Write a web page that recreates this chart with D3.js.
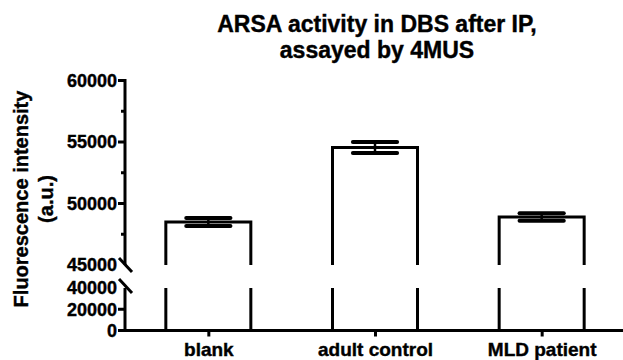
<!DOCTYPE html>
<html>
<head>
<meta charset="utf-8">
<script src="https://cdn.jsdelivr.net/npm/d3@7"></script>
<style>
  body { margin: 0; background: #fff; }
</style>
</head>
<body>
<svg id="chart" width="623" height="360"></svg>
<script>
var groups = ["blank", "adult control", "MLD patient"];
var means = [48500, 54550, 48900];
var errors = [320, 450, 300];
var upperTicks = [45000, 50000, 55000, 60000];
var upperMinor = [47500, 52500, 57500];
var lowerTicks = [0, 20000, 40000];
var titleLines = ["ARSA activity in DBS after IP,", "assayed by 4MUS"];
var yLabelLines = ["Fluorescence intensity", "(a.u.)"];

var svg = d3.select("#chart");
var axisX = 125, lw = 3;
var fmt = d3.format("d");

var x = d3.scalePoint().domain(groups).range([125, 625]).padding(0.5);
var barW = x.step() * 0.51;

// broken y axis: two segments
var yUp = d3.scaleLinear().domain([45000, 60000]).range([265, 80.5]);
var yLo = d3.scaleLinear().domain([0, 40000]).range([330.5, 288]);

function bold(sel, size){
  sel.style("font-family", "'Liberation Sans'").style("font-weight", "bold")
    .style("font-size", size + "px").attr("fill", "#000")
    .attr("stroke", "#000").attr("stroke-width", 0.4);
  return sel;
}

// title
var t = svg.append("text")
  .attr("x", 377).attr("y", 32)
  .attr("text-anchor", "middle");
bold(t, 23);
t.selectAll("tspan").data(titleLines).enter().append("tspan")
  .attr("x", 377).attr("dy", function(d, i){ return i ? 26 : 0; })
  .text(function(d){ return d; });

// y label
var yl = svg.append("text")
  .attr("transform", "translate(28,199) rotate(-90)")
  .attr("text-anchor", "middle");
bold(yl, 20);
yl.selectAll("tspan").data(yLabelLines).enter().append("tspan")
  .attr("x", 0).attr("dy", function(d, i){ return i ? 25 : 0; })
  .text(function(d){ return d; });

// bars (outlines, broken like the axis)
var bars = svg.append("g").attr("fill", "none").attr("stroke", "#000").attr("stroke-width", lw);
groups.forEach(function(g, i){
  var x0 = x(g) - barW / 2, x1 = x(g) + barW / 2;
  bars.append("path")
    .attr("d", "M" + x0 + "," + yUp(45000) + "V" + yUp(means[i]) + "H" + x1 + "V" + yUp(45000));
  bars.append("path")
    .attr("d", "M" + x0 + "," + yLo(0) + "V" + yLo(40000) + "M" + x1 + "," + yLo(0) + "V" + yLo(40000));
});

// error bars
var err = svg.append("g").attr("stroke", "#000");
groups.forEach(function(g, i){
  var cx = x(g), cw = barW * 0.26;
  err.append("line")
    .attr("x1", cx).attr("x2", cx)
    .attr("y1", yUp(means[i] + errors[i])).attr("y2", yUp(means[i] - errors[i]))
    .attr("stroke-width", 2.5);
  [means[i] + errors[i], means[i] - errors[i]].forEach(function(v){
    err.append("line")
      .attr("x1", cx - cw).attr("x2", cx + cw)
      .attr("y1", yUp(v)).attr("y2", yUp(v))
      .attr("stroke-width", 4).attr("stroke-linecap", "round");
  });
});

// y axes drawn by hand so both segments share one style
var ax = svg.append("g").attr("stroke", "#000").attr("stroke-width", lw).attr("fill", "none");
ax.append("path").attr("d", "M" + axisX + "," + (yUp(60000) - 1.5) + "V" + yUp(45000));
ax.append("path").attr("d", "M" + axisX + "," + yLo(0) + "V" + yLo(40000));

upperTicks.slice(1).forEach(function(v){
  ax.append("line").attr("x1", axisX - 7).attr("x2", axisX).attr("y1", yUp(v)).attr("y2", yUp(v));
});
upperMinor.forEach(function(v){
  ax.append("line").attr("x1", axisX - 4).attr("x2", axisX).attr("y1", yUp(v)).attr("y2", yUp(v));
});
lowerTicks.slice(0, 2).forEach(function(v){
  ax.append("line").attr("x1", axisX - 7).attr("x2", axisX).attr("y1", yLo(v)).attr("y2", yLo(v));
});

var labs = svg.append("g");
upperTicks.forEach(function(v){
  bold(labs.append("text").attr("x", axisX - 8).attr("y", yUp(v)).attr("dy", "0.35em")
    .attr("text-anchor", "end").text(fmt(v)), 18);
});
lowerTicks.forEach(function(v){
  bold(labs.append("text").attr("x", axisX - 8).attr("y", yLo(v)).attr("dy", "0.35em")
    .attr("text-anchor", "end").text(fmt(v)), 18);
});

// break marks
[yUp(45000), yLo(40000) - 2].forEach(function(yy){
  ax.append("line")
    .attr("x1", axisX - 6).attr("y1", yy - 7)
    .attr("x2", axisX + 7).attr("y2", yy + 7);
});

// x axis
var gX = svg.append("g").attr("transform", "translate(0," + yLo(0) + ")")
  .call(d3.axisBottom(x).tickSize(6).tickPadding(6).tickSizeOuter(0));
gX.select(".domain").attr("d", "M" + (axisX - 1.5) + ",0H623").attr("stroke", "#000").attr("stroke-width", lw);
gX.selectAll(".tick line").attr("stroke", "#000").attr("stroke-width", lw);
bold(gX.selectAll("text"), 19);
</script>
</body>
</html>
